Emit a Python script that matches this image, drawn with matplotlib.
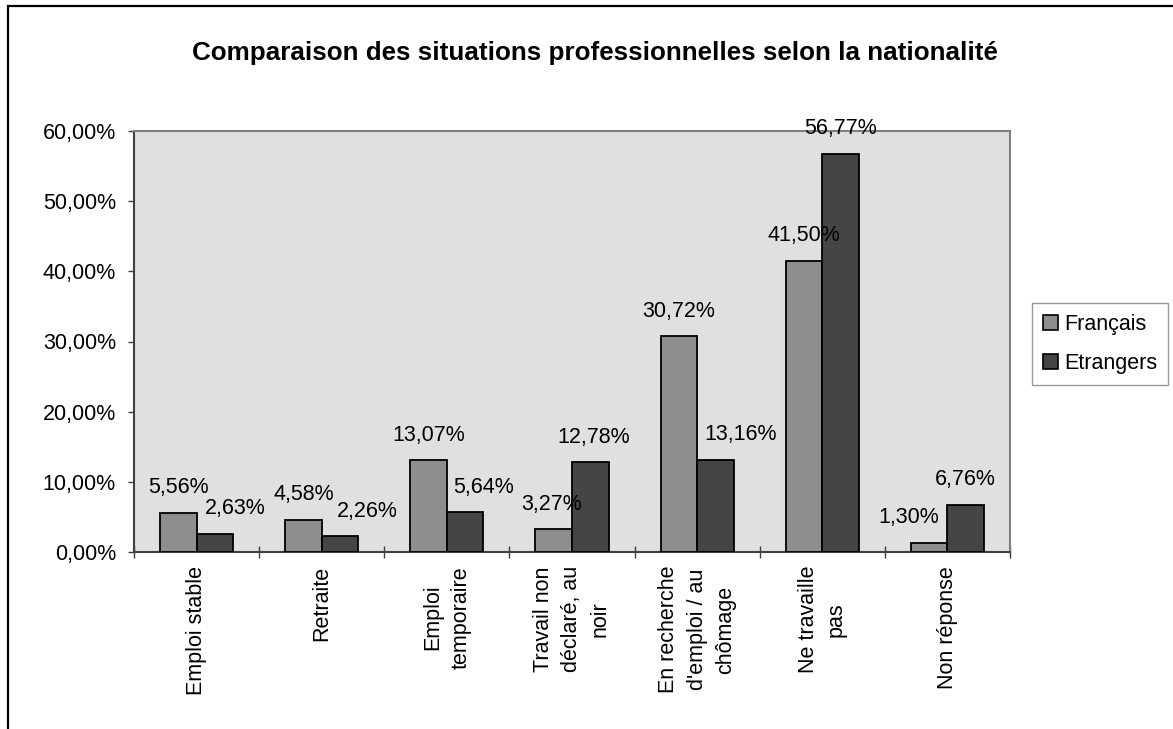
import matplotlib.pyplot as plt
import matplotlib.patches as mpatches
import numpy as np

# data (percent)
categories = ["Emploi stable", "Retraite", "Emploi\ntemporaire",
              "Travail non\ndéclaré, au\nnoir", "En recherche\nd'emploi / au\nchômage",
              "Ne travaille\npas", "Non réponse"]
francais = [5.56, 4.58, 13.07, 3.27, 30.72, 41.50, 1.30]
etrangers = [2.63, 2.26, 5.64, 12.78, 13.16, 56.77, 6.76]
series_names = ["Français", "Etrangers"]
yticks = [0, 10, 20, 30, 40, 50, 60]

# label nudges (pixels) as Excel placed them
dx_fr = [0, 0, 0, -2, 0, 0, -20]
dx_et = [20, 27, 18, 3, 25, 0, 0]

plt.rcParams['font.family'] = ['Liberation Sans', 'DejaVu Sans']
FS = 15.5

fig = plt.figure(figsize=(11.73, 7.29), dpi=100)
W, H = 1173, 729

# outer chart border (cropped on right/bottom)
fig.patches.append(mpatches.Rectangle((8 / W, -0.1), 1.2, 1 - 6 / H + 0.1,
                                      transform=fig.transFigure, fill=False,
                                      edgecolor='black', linewidth=1.6))

ax = fig.add_axes([134 / W, 1 - 552 / H, (1010 - 134) / W, (552 - 131) / H])
ax.set_facecolor('#e0e0e0')

x = np.arange(len(categories))
bw = 0.292
c_fr, c_et = '#8e8e8e', '#454545'
b1 = ax.bar(x - bw / 2, francais, bw, color=c_fr, edgecolor='black', linewidth=1.3, zorder=3)
b2 = ax.bar(x + bw / 2, etrangers, bw, color=c_et, edgecolor='black', linewidth=1.3, zorder=3)

def fmt(v):
    return f"{v:.2f}%".replace('.', ',')

for bars, vals, dxs in ((b1, francais, dx_fr), (b2, etrangers, dx_et)):
    for b, v, d in zip(bars, vals, dxs):
        ax.annotate(fmt(v), (b.get_x() + b.get_width() / 2, v),
                    xytext=(d, 19.5), textcoords='offset pixels',
                    ha='center', va='baseline', fontsize=FS, zorder=5,
                    annotation_clip=False)

ax.set_xlim(-0.5, len(categories) - 0.5)
ax.set_ylim(0, 60)
ax.set_yticks(yticks)
ax.set_yticklabels([fmt(v) for v in yticks], fontsize=FS)
ax.tick_params(axis='y', direction='out', length=4, width=1, color='#404040', pad=9)

# ticks at category boundaries, labels at centres
ax.set_xticks(np.arange(-0.5, len(categories), 1))
ax.set_xticklabels([])
ax.tick_params(axis='x', which='major', direction='inout', length=9, width=1, color='#404040')
ax.set_xticks(x, minor=True)
ax.set_xticklabels(categories, minor=True, rotation=90, fontsize=FS,
                   ha='center', va='top', multialignment='center', linespacing=1.45)
ax.tick_params(axis='x', which='minor', length=0, pad=10)

for s in ('left', 'bottom'):
    ax.spines[s].set_color('#404040')
    ax.spines[s].set_linewidth(1.5)
for s in ('top', 'right'):
    ax.spines[s].set_color('#808080')
    ax.spines[s].set_linewidth(1.5)

fig.text(595 / W, 1 - 53 / H, "Comparaison des situations professionnelles selon la nationalité",
         ha='center', va='center', fontsize=18.7, fontweight='bold')

handles = [mpatches.Patch(facecolor=c_fr, edgecolor='black', linewidth=1.2),
           mpatches.Patch(facecolor=c_et, edgecolor='black', linewidth=1.2)]
leg = fig.legend(handles, series_names, loc='upper left',
                 bbox_to_anchor=(1032 / W, 1 - 303 / H), borderaxespad=0,
                 fontsize=FS, frameon=True, fancybox=False, edgecolor='#808080',
                 handlelength=0.7, handleheight=0.7, handletextpad=0.3,
                 labelspacing=0.85, borderpad=0.5)
leg.get_frame().set_linewidth(1.0)

fig.savefig('out.png', dpi=100)
